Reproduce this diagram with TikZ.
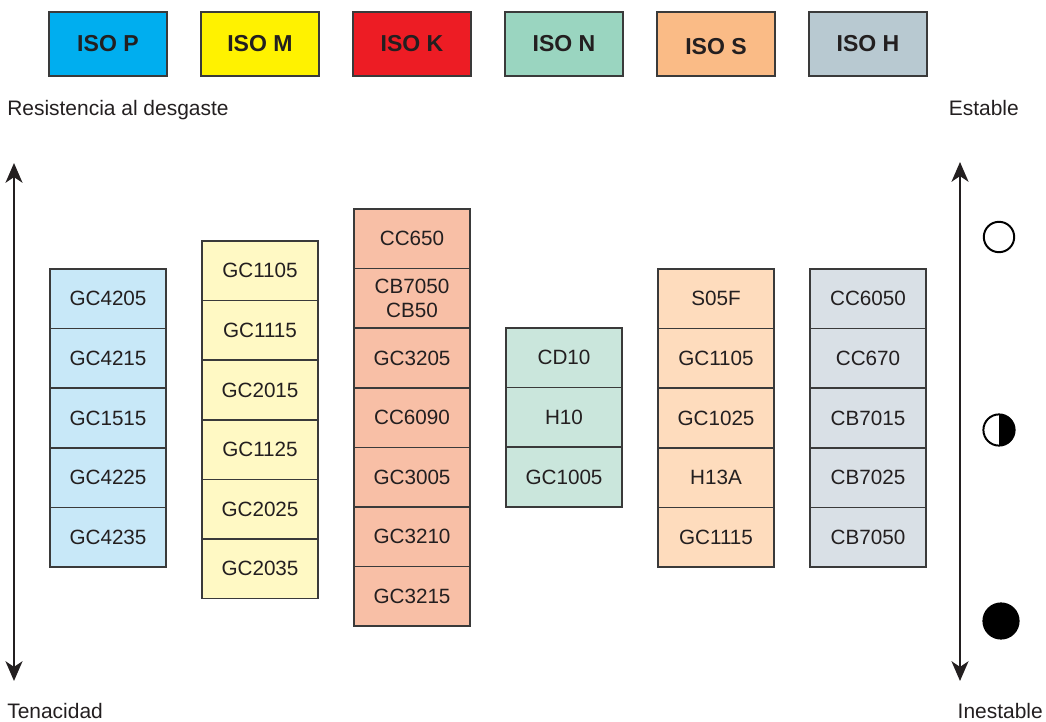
\documentclass[tikz,border=0pt]{standalone}
\usepackage{fontspec}
\setmainfont{Liberation Sans}
\usetikzlibrary{arrows.meta,positioning}
\definecolor{Texto}{HTML}{231F20}
\definecolor{Borde}{HTML}{3A3A3A}
\definecolor{AzulCab}{HTML}{00AEEF}
\definecolor{AmarilloCab}{HTML}{FFF200}
\definecolor{RojoCab}{HTML}{ED1C24}
\definecolor{VerdeCab}{HTML}{9AD5C0}
\definecolor{NaranjaCab}{HTML}{FABB86}
\definecolor{GrisCab}{HTML}{B8C9D1}
\definecolor{AzulCel}{HTML}{C8E8F8}
\definecolor{AmarilloCel}{HTML}{FFF9C4}
\definecolor{RojoCel}{HTML}{F8BFA6}
\definecolor{VerdeCel}{HTML}{CAE6DC}
\definecolor{NaranjaCel}{HTML}{FEDCBD}
\definecolor{GrisCel}{HTML}{D9E0E6}
\begin{document}
\begin{tikzpicture}[
  x=0.025cm, y=-0.025cm,
  every node/.style={text=Texto},
  cab/.style={draw=Borde,line width=1.2pt,minimum width=2.95cm,minimum height=1.6cm,
    inner sep=0pt,font=\fontsize{16.4}{19}\selectfont\bfseries},
  cel/.style={draw=Borde,line width=1.1pt,minimum width=2.9cm,minimum height=1.49cm,
    inner sep=0pt,align=center,font=\fontsize{14.7}{17}\selectfont},
  etiq/.style={font=\fontsize{14.9}{17}\selectfont,inner sep=0pt},
  eje/.style={{Stealth[length=14pt,width=12pt,inset=4pt]}-{Stealth[length=14pt,width=12pt,inset=4pt]},
    line width=2pt,draw=Texto},
  punto/.style={circle,draw=black,line width=1.4pt,inner sep=0pt}
]
  \useasboundingbox (0,0) rectangle (1046,722);

  % cabeceras ISO
  \node[cab,fill=AzulCab] (isoP) at (108,44) {ISO P};
  \node[cab,fill=AmarilloCab] (isoM) at (260,44) {ISO M};
  \node[cab,fill=RojoCab] (isoK) at (412,44) {ISO K};
  \node[cab,fill=VerdeCab] (isoN) at (564,44) {ISO N};
  \node[cab,fill=NaranjaCab] (isoS) at (716,44) {\raisebox{-2pt}[\height][\depth]{ISO S}};
  \node[cab,fill=GrisCab] (isoH) at (868,44) {ISO H};

  \node[etiq,anchor=base west] (resist) at (7,116) {Resistencia al desgaste};
  \node[etiq,anchor=base east] (estab) at (1019,116) {Estable};
  \node[etiq,anchor=base west] (tenac) at (7,718) {Tenacidad};
  \node[etiq,anchor=base east] (inest) at (1043,718) {Inestable};

  % columna P
  \node[cel,fill=AzulCel] (p1) at (108,298.8) {GC4205};
  \node[cel,fill=AzulCel] (p2) at (108,358.4) {GC4215};
  \node[cel,fill=AzulCel] (p3) at (108,418.0) {GC1515};
  \node[cel,fill=AzulCel] (p4) at (108,477.6) {GC4225};
  \node[cel,fill=AzulCel] (p5) at (108,537.2) {GC4235};

  % columna M
  \node[cel,fill=AmarilloCel] (m1) at (260,270.8) {GC1105};
  \node[cel,fill=AmarilloCel] (m2) at (260,330.4) {GC1115};
  \node[cel,fill=AmarilloCel] (m3) at (260,390.0) {GC2015};
  \node[cel,fill=AmarilloCel] (m4) at (260,449.6) {GC1125};
  \node[cel,fill=AmarilloCel] (m5) at (260,509.2) {GC2025};
  \node[cel,fill=AmarilloCel] (m6) at (260,568.8) {GC2035};

  % columna K
  \node[cel,fill=RojoCel] (k1) at (412,238.8) {CC650};
  \node[cel,fill=RojoCel] (k2) at (412,298.4) {CB7050\\CB50};
  \node[cel,fill=RojoCel] (k3) at (412,358.0) {GC3205};
  \node[cel,fill=RojoCel] (k4) at (412,417.6) {CC6090};
  \node[cel,fill=RojoCel] (k5) at (412,477.2) {GC3005};
  \node[cel,fill=RojoCel] (k6) at (412,536.8) {GC3210};
  \node[cel,fill=RojoCel] (k7) at (412,596.4) {GC3215};

  % columna N
  \node[cel,fill=VerdeCel] (n1) at (564,357.8) {CD10};
  \node[cel,fill=VerdeCel] (n2) at (564,417.4) {H10};
  \node[cel,fill=VerdeCel] (n3) at (564,477.0) {GC1005};

  % columna S
  \node[cel,fill=NaranjaCel] (s1) at (716,298.8) {S05F};
  \node[cel,fill=NaranjaCel] (s2) at (716,358.4) {GC1105};
  \node[cel,fill=NaranjaCel] (s3) at (716,418.0) {GC1025};
  \node[cel,fill=NaranjaCel] (s4) at (716,477.6) {H13A};
  \node[cel,fill=NaranjaCel] (s5) at (716,537.2) {GC1115};

  % columna H
  \node[cel,fill=GrisCel] (h1) at (868,298.8) {CC6050};
  \node[cel,fill=GrisCel] (h2) at (868,358.4) {CC670};
  \node[cel,fill=GrisCel] (h3) at (868,418.0) {CB7015};
  \node[cel,fill=GrisCel] (h4) at (868,477.6) {CB7025};
  \node[cel,fill=GrisCel] (h5) at (868,537.2) {CB7050};

  % ejes
  \coordinate (izqA) at (14,163);
  \coordinate (izqB) at (14,681);
  \draw[eje] (izqB) -- (izqA);
  \coordinate (derA) at (960,162);
  \coordinate (derB) at (960,681);
  \draw[eje] (derB) -- (derA);

  % estabilidad
  \node[punto,minimum size=0.76cm] (abierto) at (999,237) {};
  \begin{scope}
    \clip (999,430) circle (0.38cm);
    \fill[black] (999,400) rectangle (1025,460);
  \end{scope}
  \node[punto,minimum size=0.78cm] (medio) at (999,430) {};
  \node[punto,fill=black,minimum size=0.88cm] (lleno) at (1001,621) {};
\end{tikzpicture}
\end{document}
